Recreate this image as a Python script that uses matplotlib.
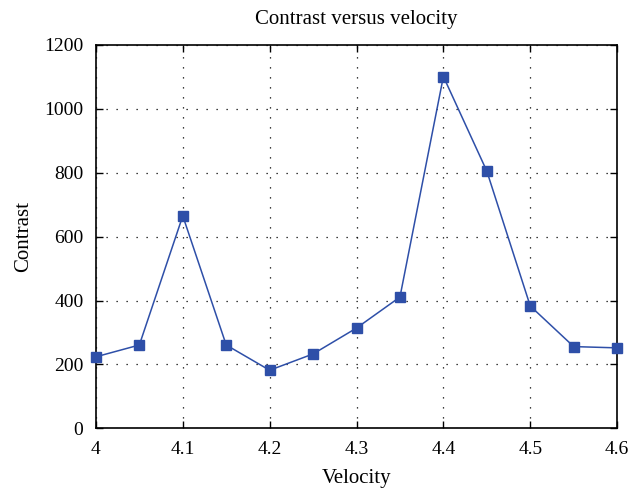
import matplotlib
matplotlib.use("Agg")
import matplotlib.pyplot as plt

velocity = [4.0, 4.05, 4.1, 4.15, 4.2, 4.25, 4.3, 4.35, 4.4, 4.45, 4.5, 4.55, 4.6]
contrast = [224, 261, 665, 261, 182, 233, 314, 411, 1101, 805, 383, 256, 252]
xticks = [4, 4.1, 4.2, 4.3, 4.4, 4.5, 4.6]
xtick_labels = ["4", "4.1", "4.2", "4.3", "4.4", "4.5", "4.6"]
yticks = [0, 200, 400, 600, 800, 1000, 1200]

plt.rcParams["font.family"] = ["Liberation Serif", "DejaVu Serif"]
plt.rcParams["font.size"] = 14

fig = plt.figure(figsize=(6.31, 4.93), dpi=100)
ax = fig.add_axes([0.152, 0.131, 0.826, 0.778])

ax.plot(velocity, contrast, color="#2E4FA8", linewidth=1.1, marker="s",
        markersize=7, markerfacecolor="#2E4FA8", markeredgecolor="#2E4FA8",
        clip_on=False, zorder=3)

ax.set_xlim(4, 4.6)
ax.set_ylim(0, 1200)
ax.set_xticks(xticks)
ax.set_xticklabels(xtick_labels)
ax.set_yticks(yticks)
ax.tick_params(direction="in", length=5, width=1, top=True, right=True,
               labelsize=14, pad=9)
ax.grid(True, color="black", linestyle=(0, (1, 7)), linewidth=0.9)
for s in ax.spines.values():
    s.set_linewidth(1.2)

ax.set_title("Contrast versus velocity", fontsize=15, pad=15)
ax.set_xlabel("Velocity", fontsize=15, labelpad=8)
ax.set_ylabel("Contrast", fontsize=15, labelpad=8)

fig.savefig("out.png", dpi=100)
